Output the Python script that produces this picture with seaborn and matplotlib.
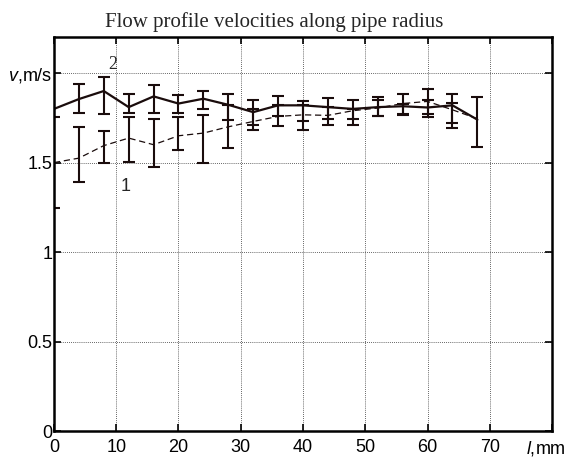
import numpy as np
import pandas as pd
import matplotlib
matplotlib.use("Agg")
import matplotlib.pyplot as plt
import matplotlib.transforms as mtransforms
import seaborn as sns

# distance along radius, mm
dist = [0, 4, 8, 12, 16, 20, 24, 28, 32, 36, 40, 44, 48, 52, 56, 60, 64, 68]

# curve 1 (dashed)
v1 = [1.50, 1.525, 1.595, 1.637, 1.60, 1.65, 1.665, 1.70, 1.73, 1.758,
      1.767, 1.764, 1.79, 1.805, 1.83, 1.842, 1.795, 1.745]
v1_lo = [1.245, 1.39, 1.497, 1.503, 1.478, 1.572, 1.497, 1.58, 1.68, 1.705,
         1.683, 1.711, 1.711, 1.76, 1.77, 1.77, 1.693, np.nan]
v1_hi = [1.755, 1.70, 1.675, 1.755, 1.743, 1.755, 1.764, 1.82, 1.80, 1.82,
         1.82, 1.81, 1.80, 1.85, 1.83, 1.91, 1.833, np.nan]

# curve 2 (solid)
v2 = [1.80, 1.855, 1.90, 1.81, 1.87, 1.83, 1.857, 1.823, 1.782, 1.82,
      1.82, 1.81, 1.80, 1.81, 1.815, 1.808, 1.82, 1.74]
v2_lo = [np.nan, 1.777, 1.77, 1.78, 1.78, 1.78, 1.80, 1.74, 1.71, 1.76,
         1.73, 1.743, 1.743, 1.758, 1.767, 1.757, 1.721, 1.587]
v2_hi = [np.nan, 1.94, 1.98, 1.885, 1.935, 1.88, 1.90, 1.885, 1.85, 1.875,
         1.847, 1.86, 1.851, 1.866, 1.885, 1.851, 1.885, 1.864]

xticks = [0, 10, 20, 30, 40, 50, 60, 70, 80]
xticklabels = ["0", "10", "20", "30", "40", "50", "60", "70", "$l$,mm"]
yticks = [0, 0.5, 1, 1.5, 2]
yticklabels = ["0", "0.5", "1", "1.5", "$v$,m/s"]

sns.set_style("ticks")
plt.rcParams["font.family"] = ["Liberation Sans", "DejaVu Sans"]
plt.rcParams["mathtext.fontset"] = "custom"
plt.rcParams["mathtext.rm"] = "Liberation Sans"
plt.rcParams["mathtext.it"] = "Liberation Sans:italic"

ink = "#1a0c0c"

df = pd.DataFrame({"l": dist, "v1": v1, "v2": v2})

fig = plt.figure(figsize=(5.68, 4.61), dpi=100)
ax = fig.add_axes([0.095, 0.065, 0.877, 0.854])

sns.lineplot(data=df, x="l", y="v1", ax=ax, color=ink, lw=0.9,
             linestyle=(0, (5, 3)))
sns.lineplot(data=df, x="l", y="v2", ax=ax, color=ink, lw=1.6)

for y, lo, hi in [(v1, v1_lo, v1_hi), (v2, v2_lo, v2_hi)]:
    y = np.array(y)
    lo = np.array(lo)
    hi = np.array(hi)
    ok = ~np.isnan(lo)
    ax.errorbar(np.array(dist)[ok], y[ok],
                yerr=[y[ok] - lo[ok], hi[ok] - y[ok]],
                fmt="none", ecolor=ink, elinewidth=1.5, capsize=4,
                capthick=1.5, clip_on=True)

ax.set_xlim(0, 80)
ax.set_ylim(0, 2.2)
ax.set_xticks(xticks)
ax.set_xticklabels(xticklabels)
ax.set_yticks(yticks)
ax.set_yticklabels(yticklabels)
ax.set_xlabel("")
ax.set_ylabel("")

ax.grid(True, color="#333333", linestyle=(0, (1, 1.5)), linewidth=0.6)
ax.tick_params(direction="in", length=5, width=1.2, labelsize=13,
               top=True, right=True, colors="black")
ax.tick_params(axis="y", pad=1)
ax.tick_params(axis="x", pad=6)
for s in ax.spines.values():
    s.set_visible(True)
    s.set_linewidth(1.8)
    s.set_color("black")

# nudge the unit label on the x axis so it stays inside the figure
lab = ax.get_xticklabels()[-1]
lab.set_transform(lab.get_transform() +
                  mtransforms.ScaledTranslation(-0.06, 0, fig.dpi_scale_trans))

ax.text(9.5, 2.05, "2", fontsize=13, family="Liberation Serif",
        ha="center", va="center")
ax.text(11.45, 1.365, "1", fontsize=13, ha="center", va="center")

fig.text(274 / 568, 1 - 27 / 461, "Flow profile velocities along pipe radius",
         family="Liberation Serif", fontsize=15, ha="center", va="baseline")

fig.savefig("out.png", dpi=100)
